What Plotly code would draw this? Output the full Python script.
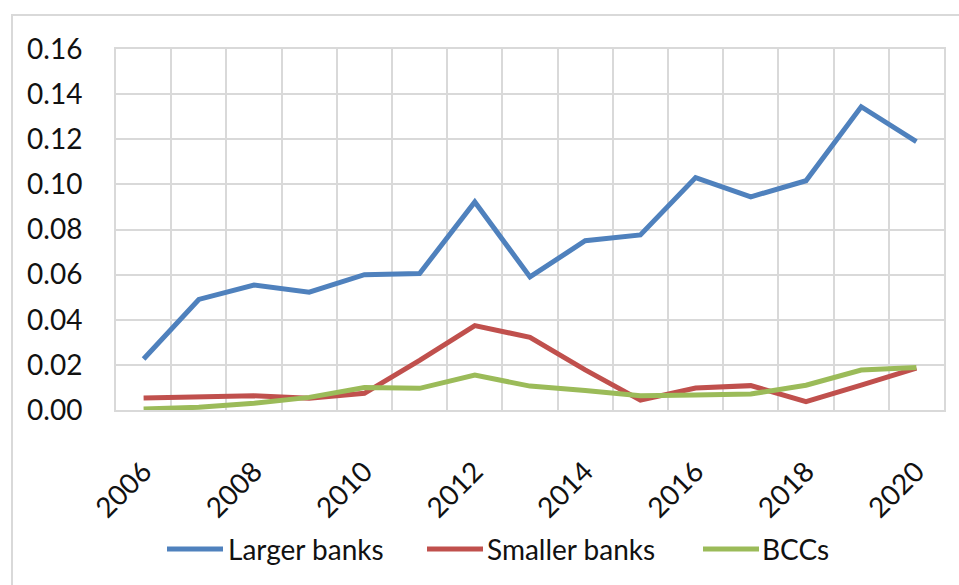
import plotly.graph_objects as go

years = list(range(2006, 2021))
larger_banks = [0.0226, 0.0490, 0.0554, 0.0522, 0.0600, 0.0605, 0.0922, 0.0590, 0.0750,
                0.0776, 0.1030, 0.0945, 0.1016, 0.1344, 0.1189]
smaller_banks = [0.0053, 0.0058, 0.0063, 0.0052, 0.0074, 0.0220, 0.0374, 0.0322, 0.0178,
                 0.0044, 0.0097, 0.0108, 0.0037, 0.0110, 0.0186]
bccs = [0.0004, 0.0012, 0.0030, 0.0056, 0.0100, 0.0096, 0.0155, 0.0106, 0.0086,
        0.0063, 0.0066, 0.0071, 0.0110, 0.0177, 0.0188]
y_ticks = [0.00, 0.02, 0.04, 0.06, 0.08, 0.10, 0.12, 0.14, 0.16]
x_tick_years = list(range(2006, 2021, 2))

series = [
    ("Larger banks", larger_banks, "#4F81BD"),
    ("Smaller banks", smaller_banks, "#C0504D"),
    ("BCCs", bccs, "#9BBB59"),
]

FONT = "Lato, Open Sans, sans-serif"
GRID = "#D9D9D9"
TEXT = "#111111"

W, H = 959, 585
L, R, T, B = 116, 15, 49, 175
plot_w = W - L - R
plot_h = H - T - B


def px_x(px):
    return (px - L) / plot_w


def px_y(py):
    return (T + plot_h - py) / plot_h


fig = go.Figure()
for name, vals, color in series:
    fig.add_trace(go.Scatter(
        x=years, y=vals, name=name, mode="lines",
        line=dict(color=color, width=5), showlegend=False,
    ))

fig.update_layout(
    width=W, height=H,
    margin=dict(l=L, r=R, t=T, b=B),
    paper_bgcolor="white", plot_bgcolor="white",
    font=dict(family=FONT, size=28, color=TEXT),
    xaxis=dict(
        range=[2005.5, 2020.5],
        tickmode="array", tickvals=x_tick_years, ticktext=[str(v) for v in x_tick_years],
        tickangle=-45, showgrid=False, zeroline=False,
        showline=True, mirror=True, linecolor=GRID, linewidth=2,
        ticks="outside", ticklen=32, tickcolor="rgba(0,0,0,0)",
        minor=dict(tick0=2005.5, dtick=1, showgrid=True, gridcolor=GRID, gridwidth=2),
    ),
    yaxis=dict(
        range=[0, 0.16], tickmode="array", tickvals=y_ticks,
        ticktext=[f"{v:.2f}" for v in y_ticks],
        showgrid=True, gridcolor=GRID, gridwidth=2, zeroline=False,
        showline=True, mirror=True, linecolor=GRID, linewidth=2,
        ticks="outside", ticklen=26, tickcolor="rgba(0,0,0,0)",
    ),
)

# outer chart frame
fig.add_shape(
    type="rect", xref="paper", yref="paper",
    x0=px_x(12), x1=px_x(W + 20), y0=px_y(H + 20), y1=px_y(15),
    line=dict(color=GRID, width=2), fillcolor="rgba(0,0,0,0)", layer="below",
)

# legend row below the plot: sample line followed by the series name
legend_y = px_y(549)
legend_slots = [(167, 223, 228), (427, 483, 487), (703, 759, 762)]
for (name, _, color), (lx0, lx1, tx) in zip(series, legend_slots):
    fig.add_shape(
        type="line", xref="paper", yref="paper",
        x0=px_x(lx0), x1=px_x(lx1), y0=legend_y, y1=legend_y,
        line=dict(color=color, width=5),
    )
    fig.add_annotation(
        xref="paper", yref="paper", x=px_x(tx), y=legend_y,
        xanchor="left", yanchor="middle", text=name, showarrow=False,
        font=dict(family=FONT, size=28, color=TEXT), xshift=-2,
    )

fig.write_html("out.html")
